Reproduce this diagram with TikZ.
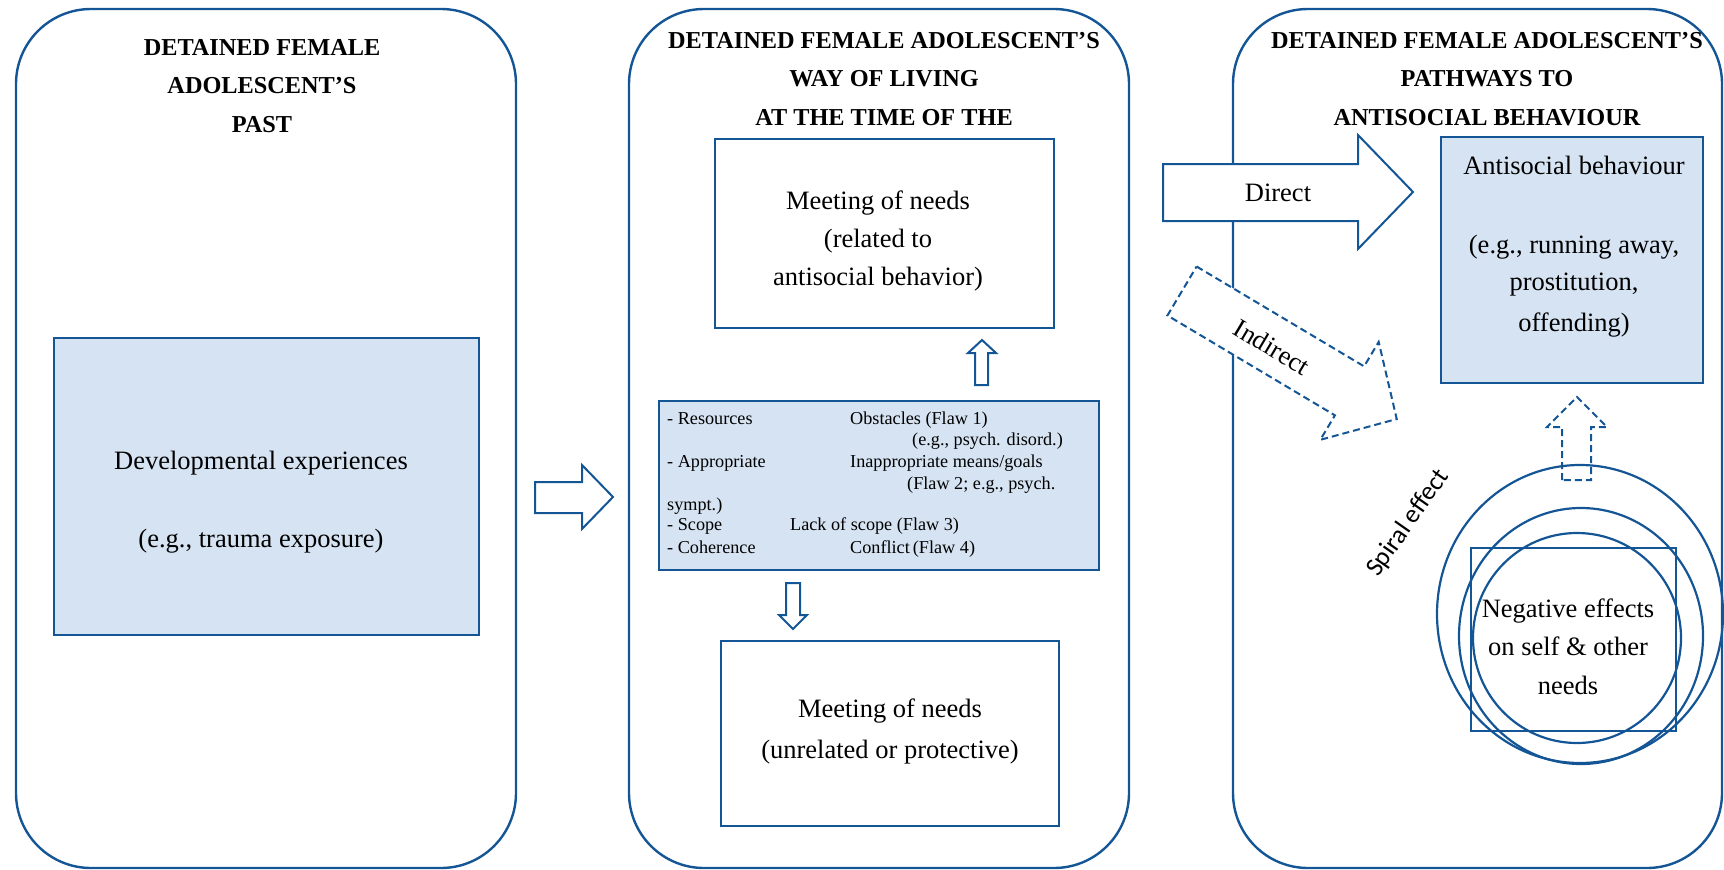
\documentclass[tikz,border=0pt]{standalone}
\usepackage{fontspec}
\setmainfont{Liberation Serif}
\newfontfamily\spiralfont{Carlito}
\definecolor{lineblue}{RGB}{20,85,150}
\definecolor{fillblue}{RGB}{214,227,242}
\begin{document}
\begin{tikzpicture}[x=1pt,y=-1pt,
  panel/.style={draw=lineblue, line width=2.4pt, rounded corners=75pt, inner sep=0pt, outer sep=0pt},
  bluebox/.style={draw=lineblue, fill=fillblue, line width=2.4pt, inner sep=0pt, outer sep=0pt},
  whitebox/.style={draw=lineblue, fill=white, line width=2.4pt, inner sep=0pt, outer sep=0pt},
  blockarrow/.style={draw=lineblue, fill=white, line width=2pt, line join=miter},
  dasharrow/.style={blockarrow, dash pattern=on 7pt off 4pt},
  titletext/.style={font=\fontsize{24.3}{38.5}\selectfont\bfseries, align=center, inner sep=0pt},
  bodytext/.style={font=\fontsize{26.5}{28}\selectfont, inner sep=0pt, text height=0.72em, text depth=0.24em, yshift=-5.5pt},
  smalltext/.style={font=\fontsize{18.2}{20}\selectfont, inner sep=0pt, anchor=west, text height=0.72em, text depth=0.24em},
  ring/.style={draw=lineblue, line width=2.2pt}
]
\useasboundingbox (0,0) rectangle (1724,870);

% panels
\node[panel, minimum width=500pt, minimum height=859pt] (p1) at (266,438.5) {};
\node[panel, minimum width=500pt, minimum height=859pt] (p2) at (879,438.5) {};
\node[panel, minimum width=489pt, minimum height=859pt] (p3) at (1477.5,438.5) {};

% titles
\node[titletext] (t1) at (262,86) {DETAINED FEMALE\\ADOLESCENT'S\\PAST};
\node[titletext] (t2) at (884,79) {DETAINED FEMALE ADOLESCENT'S\\WAY OF LIVING\\AT THE TIME OF THE};
\node[titletext] (t3) at (1487,79) {DETAINED FEMALE ADOLESCENT'S\\PATHWAYS TO\\ANTISOCIAL BEHAVIOUR};

% panel 1
\node[bluebox, minimum width=425pt, minimum height=297pt] (dev) at (266.5,486.5) {};
\node[bodytext] (dev1) at (261,462) {Developmental experiences};
\node[bodytext] (dev2) at (261,540) {(e.g., trauma exposure)};

% arrow panel1 -> panel2
\draw[blockarrow] (535,482) -- (582,482) -- (582,465) -- (613,497) -- (582,529) -- (582,513) -- (535,513) -- cycle;

% panel 2
\node[whitebox, minimum width=339pt, minimum height=189pt] (need1) at (884.5,233.5) {};
\node[bodytext] (n1a) at (878,202) {Meeting of needs};
\node[bodytext] (n1b) at (878,240) {(related to};
\node[bodytext] (n1c) at (878,278) {antisocial behavior)};

\node[bluebox, minimum width=440pt, minimum height=169pt] (flaws) at (879,485.5) {};
\node[smalltext] (f1) at (667,422) {- Resources};
\node[smalltext] (f2) at (850,422) {Obstacles (Flaw 1)};
\node[smalltext] (f3) at (912,443) {(e.g., psych. disord.)};
\node[smalltext] (f4) at (667,465) {- Appropriate};
\node[smalltext] (f5) at (850,465) {Inappropriate means/goals};
\node[smalltext] (f6) at (907,487) {(Flaw 2; e.g., psych.};
\node[smalltext] (f7) at (667,508) {sympt.)};
\node[smalltext] (f8) at (667,528) {- Scope};
\node[smalltext] (f9) at (790,528) {Lack of scope (Flaw 3)};
\node[smalltext] (f10) at (667,551) {- Coherence};
\node[smalltext] (f11) at (850,551) {Conflict\,(Flaw 4)};

\node[whitebox, minimum width=338pt, minimum height=185pt] (need2) at (890,733.5) {};
\node[bodytext] (n2a) at (890,710) {Meeting of needs};
\node[bodytext] (n2b) at (890,751) {(unrelated or protective)};

% small arrows panel 2
\draw[blockarrow] (975,385) -- (975,353) -- (968,353) -- (982,340) -- (996,353) -- (988,353) -- (988,385) -- cycle;
\draw[blockarrow] (786,583) -- (786,615) -- (779,615) -- (793,629) -- (807,615) -- (800,615) -- (800,583) -- cycle;

% panel 3
\node[bluebox, minimum width=262pt, minimum height=246pt] (anti) at (1572,260) {};
\node[bodytext] (a1) at (1574,167) {Antisocial behaviour};
\node[bodytext] (a2) at (1574,246) {(e.g., running away,};
\node[bodytext] (a3) at (1574,283) {prostitution,};
\node[bodytext] (a4) at (1574,324) {offending)};

% direct arrow
\draw[blockarrow] (1163,164) -- (1358,164) -- (1358,135) -- (1413,192) -- (1358,249) -- (1358,221) -- (1163,221) -- cycle;
\node[bodytext] (direct) at (1278,194) {Direct};

% indirect arrow
\begin{scope}[shift={(1182,291)}, rotate=-30.8]
\draw[dasharrow] (0,-28.5) -- (195,-28.5) -- (195,-57) -- (250,0) -- (195,57) -- (195,28.5) -- (0,28.5) -- cycle;
\node[bodytext, rotate=-30.8] (indirect) at (103,4) {Indirect};
\end{scope}

% rings and negative effects
\node[whitebox, fill=none, minimum width=205pt, minimum height=183pt] (neg) at (1573.5,639.5) {};
\draw[ring] (1580,614) ellipse [x radius=143, y radius=149];
\draw[ring] (1581,636) ellipse [x radius=122, y radius=128];
\draw[ring] (1577,638) ellipse [x radius=104, y radius=105];
\node[bodytext] (ng1) at (1568,610) {Negative effects};
\node[bodytext] (ng2) at (1568,648) {on self \& other};
\node[bodytext] (ng3) at (1568,687) {needs};

% dashed up arrow
\draw[dasharrow, fill=none] (1562,480) -- (1562,427) -- (1547,427) -- (1577,397) -- (1607,427) -- (1591,427) -- (1591,480) -- cycle;

\node[font=\spiralfont\fontsize{26}{30}\selectfont, rotate=55, inner sep=0pt] (spiral) at (1408,523) {Spiral effect};
\end{tikzpicture}
\end{document}
